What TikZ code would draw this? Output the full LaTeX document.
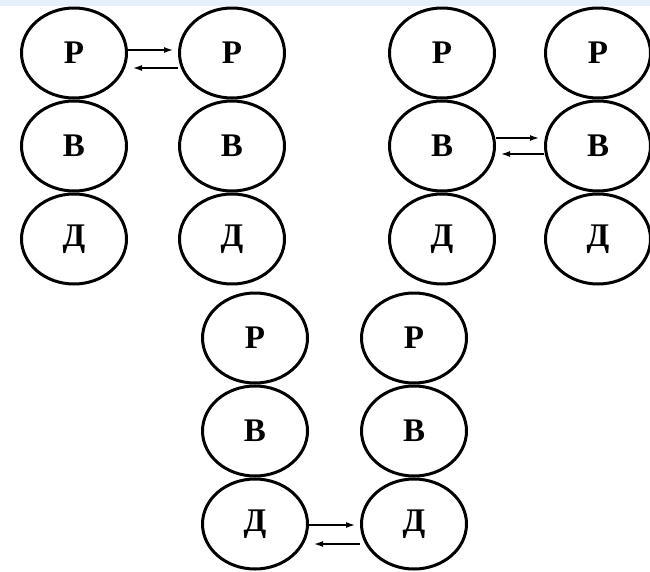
\documentclass[tikz,border=0pt]{standalone}
\usepackage{fontspec}
\setmainfont{Liberation Serif}
\usepackage{tikz}
\usetikzlibrary{arrows.meta}
\usetikzlibrary{positioning}
\usetikzlibrary{shapes.geometric}
\definecolor{topband}{HTML}{E6F0FA}
\tikzset{
  cell/.style = {ellipse, draw=black, line width=3pt, inner sep=0pt,
    minimum width=105pt, minimum height=90pt,
    font=\bfseries\fontsize{33}{33}\selectfont},% kruzhok
  link/.style = {-{Latex[length=9pt,width=6pt]}, line width=1.4pt,
    shorten >=5pt}% strelka
}

\begin{document}
\begin{tikzpicture}[x=1pt,y=-1pt]
\useasboundingbox (0,0) rectangle (650,571);
\fill[topband] (0,0) rectangle (650,6);

\foreach \n/\x/\y in {a/74/53,b/232/53,c/442/53,d/598/53,e/255/338,f/414/338}{
  \node[cell] (\n r) at (\x,\y) {Р};
  \node[cell,below=0pt of \n r] (\n v) {В};
  \node[cell,below=0pt of \n v] (\n d) {Д};
}

\draw[link] ([yshift=3pt]ar.east) -- ([yshift=3pt]br.west);
\draw[link] ([yshift=-15pt]br.west) -- ([yshift=-15pt]ar.east);

\draw[link] ([yshift=8pt]cv.east) -- ([yshift=8pt]dv.west);
\draw[link] ([yshift=-8pt]dv.west) -- ([yshift=-8pt]cv.east);

\draw[link] ([yshift=-1pt]ed.east) -- ([yshift=-1pt]fd.west);
\draw[link] ([yshift=-20pt]fd.west) -- ([yshift=-20pt]ed.east);
\end{tikzpicture}
\end{document}
